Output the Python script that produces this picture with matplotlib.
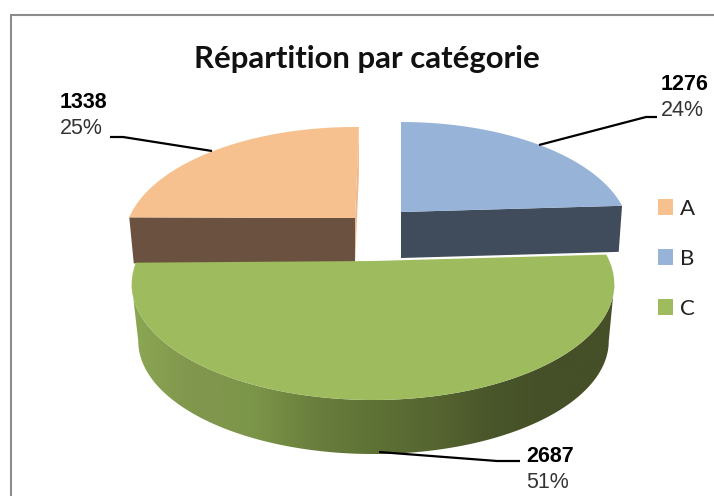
import numpy as np
import matplotlib
matplotlib.use("Agg")
import matplotlib.pyplot as plt
from matplotlib.colors import LinearSegmentedColormap
from matplotlib.patches import Patch, Polygon

# chart data
categories = ["A", "B", "C"]
values = [1338, 1276, 2687]
percent_labels = ["25%", "24%", "51%"]
title = "Répartition par catégorie"

top_colors = ["#F7C08F", "#97B3D7", "#9EBC5E"]
wall_colors = ["#6B5240", "#404B5C"]
inner_color = "#EDB88C"
c_wall_stops = ["#8BA853", "#82964E", "#7C9649", "#6A7F3E", "#5F7236", "#566531", "#49552A", "#454F28", "#454F28"]

# camera distance, the pie is seen in perspective so front is bigger than back
DIST = 5.0


def project(theta, apex, fx, fy, scale=1.0):
    """Project angle (degrees clockwise from top) on the rim to pixel coords"""
    t = np.radians(theta)
    x = apex[0] + scale * fx * np.sin(t) / (DIST + np.cos(t))
    y = apex[1] - scale * fy * np.cos(t) / (DIST + np.cos(t))
    return np.column_stack([x, y])


def arc(a1, a2, geo, bottom=False):
    angles = np.linspace(a1, a2, 200) + geo["rot"]
    if bottom:
        return project(angles, geo["apex_b"], geo["fx"], geo["fy"], geo["s"])
    return project(angles, geo["apex"], geo["fx"], geo["fy"])


def draw_slice(ax, a1, a2, geo, top_color, wall_color):
    """Exploded back slice: flat cut wall facing the viewer, then its top"""
    left = arc(a1, a1, geo)[0]
    right = arc(a2, a2, geo)[0]
    left_b = arc(a1, a1, geo, bottom=True)[0]
    right_b = arc(a2, a2, geo, bottom=True)[0]
    if geo.get("inner"):
        ax.add_patch(Polygon([right, geo["apex"], geo["apex_b"], right_b], fc=inner_color, ec="none", zorder=1))
    if geo["wall_side"] == "left":
        quad = [left, geo["apex"], geo["apex_b"], left_b]
    else:
        quad = [right, geo["apex"], geo["apex_b"], right_b]
    ax.add_patch(Polygon(quad, fc=wall_color, ec="none", zorder=2))
    top = np.vstack([geo["apex"], arc(a1, a2, geo)])
    ax.add_patch(Polygon(top, fc=top_color, ec="none", zorder=3))


fig = plt.figure(figsize=(7.14, 4.96), dpi=100)
ax = fig.add_axes([0, 0, 1, 1])
ax.set_axis_off()

# chart frame, only top and left are inside the screenshot
ax.plot([10.5, 10.5, 714], [496, 14.5, 14.5], color="#8C8C8C", lw=1.5, solid_joinstyle="miter", zorder=0)

total = sum(values)
span_a, span_b, span_c = [v / total * 360 for v in values]

geo_a = {"apex": (355, 218), "apex_b": (355, 264), "fx": 1130, "fy": 546, "s": 0.98, "rot": 1.2,
         "wall_side": "left", "inner": True}
geo_b = {"apex": (401, 212), "apex_b": (401, 258), "fx": 1120, "fy": 540, "s": 0.985, "rot": 0,
         "wall_side": "right"}
geo_c = {"apex": (373, 261), "apex_b": (373.5, 318.5), "fx": 1182, "fy": 556, "s": 0.975, "rot": 0}

draw_slice(ax, 360 - span_a, 360, geo_a, top_colors[0], wall_colors[0])
draw_slice(ax, 0, span_b, geo_b, top_colors[1], wall_colors[1])

# big slice: curved wall with a horizontal gradient, top drawn over it
c_start, c_end = span_b, span_b + span_c
# silhouette of the wall runs between the widest points of the rim
side = np.degrees(np.arccos(-1 / DIST))
rim = np.vstack([arc(side, 360 - side, geo_c), arc(side, 360 - side, geo_c, bottom=True)[::-1]])
cmap = LinearSegmentedColormap.from_list("c_wall", c_wall_stops)
img = ax.imshow(np.linspace(0, 1, 256)[None, :], cmap=cmap, extent=(130, 616, 460, 250),
                aspect="auto", zorder=4, interpolation="bilinear")
clip = Polygon(rim, transform=ax.transData, fc="none", ec="none")
ax.add_patch(clip)
img.set_clip_path(clip)
ax.add_patch(Polygon(np.vstack([geo_c["apex"], arc(c_start, c_end, geo_c)]), fc=top_colors[2], ec="none", zorder=5))

ax.set_xlim(0, 714)
ax.set_ylim(496, 0)

# leader lines
leaders = [
    ([110, 123, 212], [137, 137, 151]),
    ([539, 646, 657], [145, 117, 117]),
    ([379, 497, 520], [452, 461, 461]),
]
for xs, ys in leaders:
    ax.plot(xs, ys, color="black", lw=1.6, zorder=6, solid_capstyle="butt")

# data labels
label_pos = [(60, 102, 128), (661, 84, 110), (526, 457, 482)]
for val, pct, (x, y1, y2) in zip(values, percent_labels, label_pos):
    ax.text(x, y1, str(val), family="Liberation Sans", weight="bold", fontsize=15.5, color="black", va="center", ha="left", zorder=7)
    ax.text(x, y2, pct, family="Liberation Sans", fontsize=15.5, color="#333333", va="center", ha="left", zorder=7)

ax.text(366.5, 59, title, family="Lato", weight="bold", fontsize=22.4, color="#111111", ha="center", va="center", zorder=7)

handles = [Patch(fc=c, ec="none") for c in top_colors]
ax.legend(handles, categories, loc="upper left", bbox_to_anchor=(658, 199), bbox_transform=ax.transData,
          frameon=False, borderpad=0, borderaxespad=0, handlelength=0.68, handleheight=0.72,
          handletextpad=0.32, labelspacing=1.35, prop={"family": "Lato", "size": 16}, labelcolor="#222222")

fig.savefig("out.png", dpi=100, facecolor="white")
